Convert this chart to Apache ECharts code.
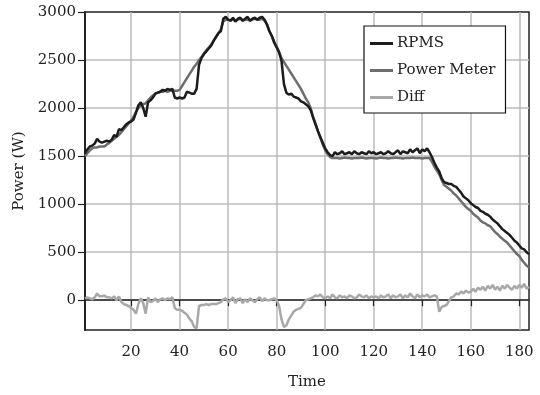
<!DOCTYPE html>
<html>
<head>
<meta charset="utf-8">
<script src="https://cdn.jsdelivr.net/npm/echarts@6/dist/echarts.min.js"></script>
<style>html,body{margin:0;padding:0;background:#fff}#c{width:540px;height:395px}</style>
</head>
<body>
<div id="c"></div>
<script>
const rpms = [
1530,1570,1600,1610,1630,1680,1650,1640,1650,1660,
1650,1670,1720,1700,1780,1770,1800,1830,1850,1860,
1880,1950,2030,2060,2000,1910,2060,2080,2110,2150,
2160,2170,2190,2180,2200,2190,2200,2110,2100,2110,
2100,2110,2170,2160,2150,2150,2200,2450,2520,2560,
2590,2620,2650,2700,2740,2780,2800,2930,2950,2920,
2910,2940,2900,2930,2940,2910,2930,2950,2910,2930,
2940,2920,2940,2950,2920,2870,2800,2750,2680,2630,
2580,2490,2250,2160,2140,2150,2120,2110,2100,2070,
2060,2040,2020,1980,1900,1830,1760,1700,1640,1580,
1540,1510,1500,1540,1520,1530,1550,1520,1530,1540,
1520,1550,1530,1520,1540,1530,1520,1550,1530,1540,
1520,1530,1540,1520,1530,1550,1530,1520,1540,1560,
1520,1550,1540,1530,1570,1540,1560,1580,1530,1570,
1550,1580,1540,1490,1430,1380,1340,1270,1230,1220,
1210,1210,1190,1180,1150,1120,1080,1060,1040,1010,
990,970,960,930,920,900,890,870,840,820,
800,770,740,720,700,680,650,620,600,570,
540,530,500,480
];
const powerMeter = [
1500,1530,1560,1580,1590,1590,1600,1600,1600,1620,
1640,1660,1680,1700,1720,1750,1780,1810,1840,1870,
1910,1960,2000,2030,2040,2050,2080,2110,2130,2150,
2160,2170,2170,2180,2170,2180,2180,2180,2180,2190,
2230,2270,2310,2350,2390,2430,2460,2500,2530,2570,
2600,2630,2660,2700,2740,2780,2820,2900,2920,2920,
2910,2920,2910,2920,2930,2910,2920,2920,2910,2920,
2930,2920,2920,2930,2910,2870,2800,2750,2690,2640,
2580,2520,2480,2440,2400,2360,2320,2280,2240,2200,
2150,2100,2060,2000,1910,1840,1760,1690,1620,1560,
1520,1490,1480,1480,1480,1475,1480,1485,1480,1480,
1475,1480,1480,1480,1485,1480,1475,1480,1480,1480,
1475,1480,1485,1480,1480,1475,1480,1480,1485,1480,
1480,1475,1480,1480,1480,1485,1480,1480,1480,1475,
1480,1480,1480,1440,1390,1350,1310,1250,1200,1180,
1160,1140,1110,1090,1060,1030,1000,970,950,930,
900,880,860,830,810,800,780,770,740,710,
690,660,640,620,600,570,540,510,480,460,
420,390,360,340
];
const diff = [
20,30,20,10,30,70,40,40,50,30,
30,20,40,0,40,-20,-40,-50,-60,-80,
-100,-140,-40,20,-30,-140,30,-20,-10,20,
-20,10,20,0,20,10,30,-80,-100,-100,
-110,-130,-150,-190,-220,-280,-290,-60,-50,-50,
-40,-50,-40,-40,-40,-30,-20,10,20,-20,
0,30,-30,10,20,-30,10,-20,20,0,
-20,10,30,-10,20,0,0,10,20,0,
-60,-200,-280,-260,-200,-160,-120,-100,-90,-80,
-40,0,10,20,30,50,40,60,30,20,
40,20,60,30,20,50,30,40,20,50,
40,20,30,60,40,30,50,20,40,30,
40,20,50,30,40,60,20,50,30,40,
60,20,50,30,70,40,20,60,30,50,
40,60,30,40,50,40,-120,-70,-60,-50,
-10,30,40,70,60,90,70,100,80,90,
120,90,130,110,140,100,150,120,160,110,
140,100,150,120,160,130,110,150,120,160,
130,170,120,140
];
const seriesNames = ['RPMS', 'Power Meter', 'Diff'];
const times = rpms.map((_, i) => i + 1);

const font = 'DejaVu Serif';
const pairs = arr => arr.map((v, i) => [times[i], v]);
const plain = v => String(v);

const chart = echarts.init(document.getElementById('c'), null, {renderer: 'canvas'});
chart.setOption({
  animation: false,
  backgroundColor: '#fff',
  textStyle: {fontFamily: font},
  grid: {left: 85, right: 11, top: 12, bottom: 64, show: true, borderColor: '#222', borderWidth: 1.5, containLabel: false},
  legend: {
    data: seriesNames,
    orient: 'vertical',
    left: 364, top: 26,
    padding: [10, 10, 8, 6],
    itemGap: 12,
    itemWidth: 23, itemHeight: 3,
    icon: 'rect',
    backgroundColor: '#fff',
    borderColor: '#111', borderWidth: 1.2,
    textStyle: {fontFamily: font, fontSize: 15, color: '#222', padding: [0,0,0,-1]}
  },
  xAxis: {
    type: 'value', min: 1, max: 184, splitNumber: 9,
    name: 'Time', nameLocation: 'middle', nameGap: 45,
    nameTextStyle: {fontFamily: font, fontSize: 15, color: '#222'},
    axisLine: {show: true, lineStyle: {color: '#222', width: 1.5}},
    axisTick: {show: true, length: 6, lineStyle: {color: '#222', width: 1.2}},
    axisLabel: {showMinLabel: false, showMaxLabel: false, margin: 15, fontFamily: font, fontSize: 15, color: '#222', formatter: plain},
    splitLine: {show: true, showMinLine: false, showMaxLine: false, lineStyle: {color: '#bbb', width: 1.5}}
  },
  yAxis: {
    type: 'value', min: -310, max: 3000, splitNumber: 7,
    name: 'Power (W)', nameLocation: 'middle', nameGap: 50,
    nameTextStyle: {fontFamily: font, fontSize: 15, color: '#222'},
    axisLine: {show: true, lineStyle: {color: '#222', width: 2}},
    axisTick: {show: true, length: 7, lineStyle: {color: '#222', width: 1.2}},
    axisLabel: {showMinLabel: false, margin: 9, fontFamily: font, fontSize: 15, color: '#222', formatter: plain},
    splitLine: {show: true, showMinLine: false, showMaxLine: false, lineStyle: {color: '#bbb', width: 1.5}}
  },
  series: [
    {name: seriesNames[0], type: 'line', data: pairs(rpms), showSymbol: false, symbol: 'none', z: 4,
     color: '#1c1c1c', lineStyle: {color: '#1c1c1c', width: 2.5}},
    {name: seriesNames[1], type: 'line', data: pairs(powerMeter), showSymbol: false, symbol: 'none', z: 3,
     color: '#6e6e6e', lineStyle: {color: '#6e6e6e', width: 2.5}},
    {name: seriesNames[2], type: 'line', data: pairs(diff), showSymbol: false, symbol: 'none', z: 2,
     color: '#a8a8a8', lineStyle: {color: '#a8a8a8', width: 2.5}}
  ]
});
</script>
</body>
</html>
